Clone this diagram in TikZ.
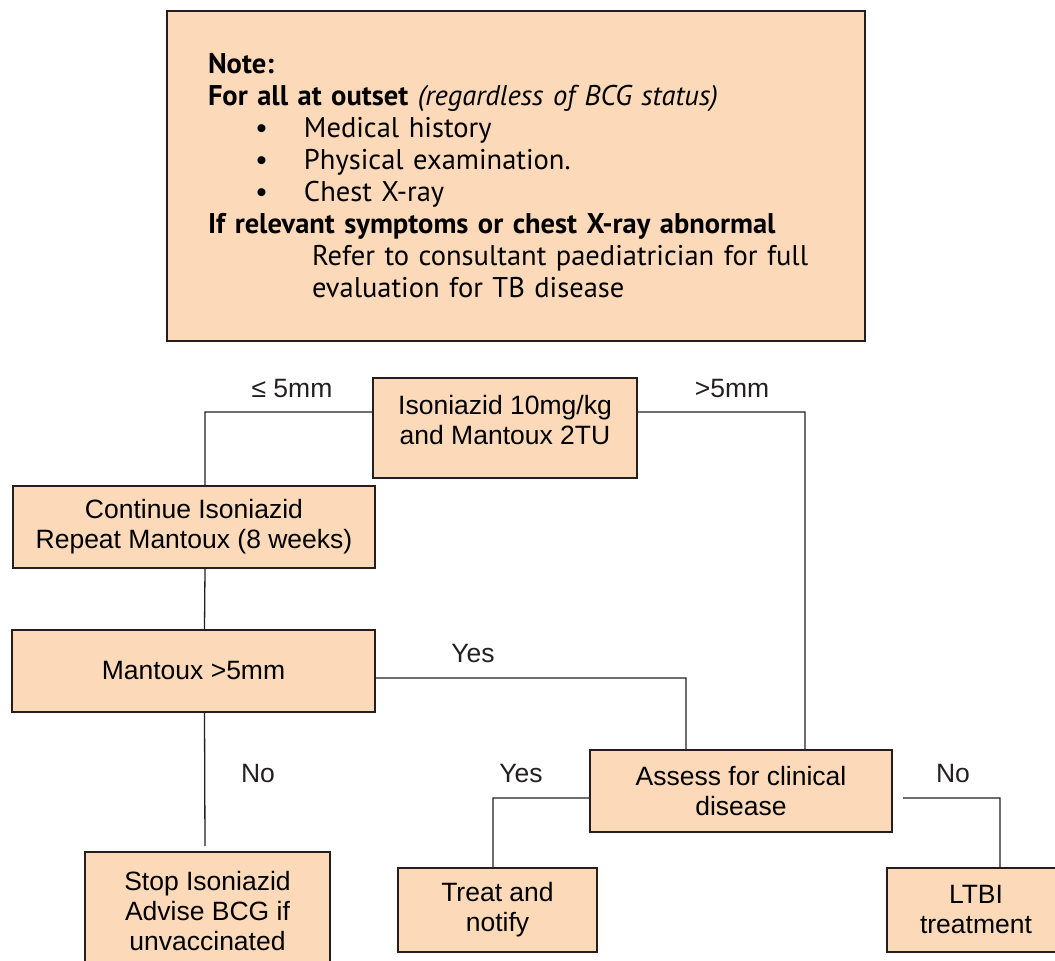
\documentclass[tikz,border=0pt]{standalone}
\usepackage{fontspec}
\setmainfont{Liberation Sans}
\newfontfamily\notefont{PT Sans}
\usetikzlibrary{positioning}
\definecolor{peach}{RGB}{251,217,185}
\definecolor{ink}{RGB}{35,31,32}

\begin{document}
\begin{tikzpicture}[
		x=1pt,y=-1pt,
		mybox/.style={draw=ink,line width=2pt,fill=peach,rectangle,align=center,inner sep=0pt,
			font=\fontsize{26.5}{30}\selectfont},
		mylabel/.style={font=\fontsize{26.5}{30}\selectfont,text=ink},
		myline/.style={draw=ink,line width=1.3pt}
		]
		\clip (0,0) rectangle (1055,961);
		% note at the top
		\node[mybox,minimum width=698,minimum height=330,text width=616,align=left,
			font=\notefont\fontsize{28.5}{32}\selectfont] (note) at (516,176)
		{
			\textbf{Note:}\\
			\textbf{For all at outset} \textit{(regardless of BCG status)}\\
			\hspace*{47pt}\makebox[49pt][l]{\textbullet}Medical history\\
			\hspace*{47pt}\makebox[49pt][l]{\textbullet}Physical examination.\\
			\hspace*{47pt}\makebox[49pt][l]{\textbullet}Chest X-ray\\
			\textbf{If relevant symptoms or chest X-ray abnormal}\\
			\hspace*{104pt}Refer to consultant paediatrician for full\\
			\hspace*{104pt}evaluation for TB disease
		};
		% flow chart
		\node[mybox,minimum width=264,minimum height=100] (iso) at (505,428)
		{Isoniazid 10mg/kg\\and Mantoux 2TU\rule[-16pt]{0pt}{0pt}};
		\node[mybox,minimum width=362,minimum height=82] (cont) at (194,527)
		{Continue Isoniazid\\Repeat Mantoux (8 weeks)};
		\node[mybox,minimum width=363,minimum height=82] (mant) at (193.5,671)
		{Mantoux >5mm};
		\node[mybox,minimum width=245,minimum height=123] (stop) at (207.5,913.5)
		{Stop Isoniazid\\Advise BCG if\\unvaccinated\rule[-6pt]{0pt}{0pt}};
		\node[mybox,minimum width=302,minimum height=82] (assess) at (741,791)
		{Assess for clinical\\disease};
		\node[mybox,minimum width=199,minimum height=84] (treat) at (497.5,910)
		{Treat and\\notify};
		\node[mybox,minimum width=178,minimum height=84] (ltbi) at (976,910)
		{LTBI\\treatment};
		\coordinate (noend) at (205,846);
		% labels
		\node[mylabel] (le5) at (292,389) {≤ 5mm};
		\node[mylabel] (gt5) at (732,389) {>5mm};
		\node[mylabel] (yes1) at (473,654) {Yes};
		\node[mylabel] (no1) at (258,774) {No};
		\node[mylabel] (yes2) at (521,774) {Yes};
		\node[mylabel] (no2) at (953,774) {No};
		% connectors
		\path[myline]
		([yshift=16pt]iso.west) -| ([xshift=11pt]cont.north)
		([yshift=16pt]iso.east) -| ([xshift=64pt]assess.north)
		([xshift=11pt]cont.south) -- ([xshift=11pt]mant.north)
		([yshift=-7pt]mant.east) -| ([xshift=-55pt]assess.north)
		([xshift=11pt]mant.south) -- (noend)
		([yshift=-7pt]assess.west) -| ([xshift=-4.5pt]treat.north)
		([xshift=10pt,yshift=-7pt]assess.east) -| ([xshift=24pt]ltbi.north);
	\end{tikzpicture}
\end{document}
